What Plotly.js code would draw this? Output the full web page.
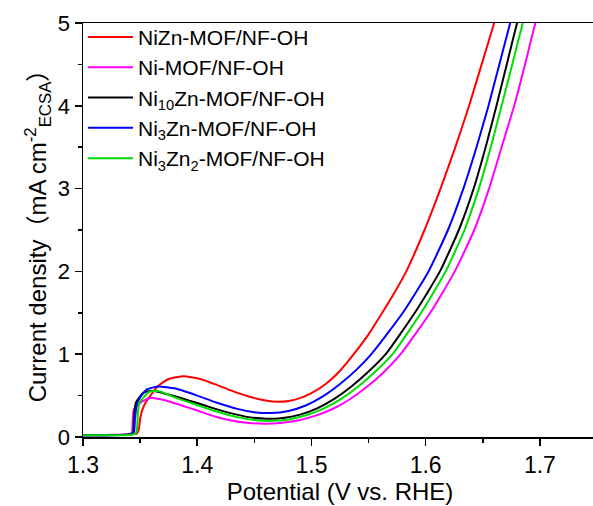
<!DOCTYPE html>
<html>
<head>
<meta charset="utf-8">
<script src="https://cdn.plot.ly/plotly-3.0.1.min.js"></script>
<style>
  html, body { margin: 0; padding: 0; overflow: hidden; background: #fff; }
  #chart { width: 600px; height: 506px; }
</style>
</head>
<body>
<div id="chart"></div>
<script>
// ---- Data ----
const seriesNames = [
  'NiZn-MOF/NF-OH',
  'Ni-MOF/NF-OH',
  'Ni<sub>10</sub>Zn-MOF/NF-OH',
  'Ni<sub>3</sub>Zn-MOF/NF-OH',
  'Ni<sub>3</sub>Zn<sub>2</sub>-MOF/NF-OH'
];
const seriesColors = ['#ff0000', '#ff00ff', '#000000', '#0000ff', '#00dd00'];

// NiZn-MOF/NF-OH (red)
const niznV = [1.300, 1.320, 1.340, 1.347, 1.349, 1.350, 1.352, 1.355, 1.359, 1.366, 1.375, 1.388, 1.404, 1.416, 1.430, 1.445, 1.460, 1.470, 1.480, 1.490, 1.500, 1.5125, 1.525, 1.537, 1.550, 1.562, 1.573, 1.583, 1.599, 1.613, 1.626, 1.638, 1.649, 1.660, 1.663];
const niznJ = [0.020, 0.025, 0.030, 0.040, 0.100, 0.220, 0.330, 0.420, 0.500, 0.620, 0.700, 0.735, 0.695, 0.635, 0.560, 0.490, 0.440, 0.425, 0.435, 0.470, 0.530, 0.640, 0.800, 1.000, 1.240, 1.500, 1.750, 2.000, 2.500, 3.000, 3.500, 4.000, 4.500, 5.000, 5.150];

// Ni-MOF/NF-OH (magenta)
const niV = [1.300, 1.320, 1.342, 1.343, 1.3435, 1.3445, 1.3517, 1.359, 1.368, 1.381, 1.400, 1.416, 1.430, 1.445, 1.460, 1.473, 1.488, 1.503, 1.518, 1.533, 1.548, 1.563, 1.578, 1.604, 1.6255, 1.6425, 1.6555, 1.6665, 1.6775, 1.687, 1.696, 1.699];
const niJ = [0.020, 0.022, 0.035, 0.060, 0.200, 0.330, 0.430, 0.470, 0.455, 0.405, 0.320, 0.245, 0.200, 0.170, 0.160, 0.170, 0.200, 0.255, 0.335, 0.450, 0.600, 0.780, 1.000, 1.500, 2.000, 2.500, 3.000, 3.500, 4.000, 4.500, 5.000, 5.150];

// Ni10Zn-MOF/NF-OH (black)
const ni10znV = [1.300, 1.320, 1.340, 1.344, 1.3443, 1.345, 1.3465, 1.353, 1.3605, 1.381, 1.400, 1.416, 1.430, 1.445, 1.460, 1.475, 1.490, 1.505, 1.520, 1.535, 1.550, 1.565, 1.5905, 1.6125, 1.629, 1.642, 1.6525, 1.662, 1.671, 1.680, 1.683];
const ni10znJ = [0.020, 0.022, 0.030, 0.050, 0.120, 0.300, 0.420, 0.535, 0.560, 0.490, 0.410, 0.340, 0.285, 0.240, 0.220, 0.230, 0.270, 0.345, 0.460, 0.610, 0.790, 1.000, 1.500, 2.000, 2.500, 3.000, 3.500, 4.000, 4.500, 5.000, 5.150];

// Ni3Zn-MOF/NF-OH (blue)
const ni3znV = [1.300, 1.320, 1.340, 1.3445, 1.3455, 1.347, 1.350, 1.356, 1.366, 1.381, 1.400, 1.416, 1.435, 1.450, 1.465, 1.480, 1.495, 1.510, 1.525, 1.540, 1.5525, 1.580, 1.6025, 1.6195, 1.633, 1.6445, 1.655, 1.6645, 1.674, 1.677];
const ni3znJ = [0.020, 0.022, 0.030, 0.060, 0.220, 0.380, 0.480, 0.575, 0.610, 0.585, 0.500, 0.420, 0.340, 0.300, 0.290, 0.315, 0.380, 0.490, 0.640, 0.820, 1.000, 1.500, 2.000, 2.500, 3.000, 3.500, 4.000, 4.500, 5.000, 5.150];

// Ni3Zn2-MOF/NF-OH (green)
const ni3zn2V = [1.300, 1.320, 1.340, 1.346, 1.3473, 1.348, 1.3495, 1.358, 1.366, 1.381, 1.400, 1.416, 1.435, 1.450, 1.466, 1.481, 1.496, 1.511, 1.526, 1.541, 1.556, 1.571, 1.596, 1.6175, 1.634, 1.6465, 1.657, 1.6665, 1.6758, 1.685, 1.688];
const ni3zn2J = [0.020, 0.022, 0.025, 0.040, 0.100, 0.280, 0.420, 0.545, 0.555, 0.475, 0.385, 0.310, 0.240, 0.205, 0.195, 0.215, 0.265, 0.345, 0.460, 0.610, 0.790, 1.000, 1.500, 2.000, 2.500, 3.000, 3.500, 4.000, 4.500, 5.000, 5.150];

const xTickVals = [1.3, 1.4, 1.5, 1.6, 1.7];
const xTickText = ['1.3', '1.4', '1.5', '1.6', '1.7'];
const yTickVals = [0, 1, 2, 3, 4, 5];
const yTickText = ['0', '1', '2', '3', '4', '5'];

const xs = [niznV, niV, ni10znV, ni3znV, ni3zn2V];
const ys = [niznJ, niJ, ni10znJ, ni3znJ, ni3zn2J];

const FONT = 'Liberation Sans, Arial, Noto Sans CJK SC, sans-serif';

const traces = seriesNames.map((name, i) => ({
  type: 'scatter',
  mode: 'lines',
  name: name,
  x: xs[i],
  y: ys[i],
  line: { color: seriesColors[i], width: 2, shape: 'spline', smoothing: 0.5 }
}));

const layout = {
  width: 600,
  height: 506,
  margin: { l: 83, r: 3, t: 23, b: 69 },
  paper_bgcolor: '#ffffff',
  plot_bgcolor: '#ffffff',
  font: { family: FONT, color: '#000000' },
  showlegend: true,
  legend: {
    x: 0.0, y: 1.015, xanchor: 'left', yanchor: 'top',
    bgcolor: 'rgba(0,0,0,0)', borderwidth: 0,
    font: { family: FONT, size: 21, color: '#000' },
    tracegroupgap: 0, itemwidth: 45
  },
  xaxis: {
    range: [1.3, 1.75],
    tickmode: 'array', tickvals: xTickVals, ticktext: xTickText,
    ticks: 'outside', ticklen: 7, tickwidth: 1.5, tickcolor: '#000',
    minor: { dtick: 0.05, ticks: 'outside', ticklen: 4, tickwidth: 1.5, tickcolor: '#000', showgrid: false },
    showline: true, linecolor: '#000', linewidth: 1.5, mirror: true,
    showgrid: false, zeroline: false,
    tickfont: { family: FONT, size: 23, color: '#000' },
    title: { text: 'Potential (V vs. RHE)', font: { family: FONT, size: 24, color: '#000' }, standoff: 6 },
    automargin: false
  },
  yaxis: {
    range: [0, 5],
    tickmode: 'array', tickvals: yTickVals, ticktext: yTickText,
    ticks: 'outside', ticklen: 7, tickwidth: 1.5, tickcolor: '#000',
    minor: { dtick: 0.5, ticks: 'outside', ticklen: 4, tickwidth: 1.5, tickcolor: '#000', showgrid: false },
    showline: true, linecolor: '#000', linewidth: 1.5, mirror: true,
    showgrid: false, zeroline: false,
    tickfont: { family: FONT, size: 22, color: '#000' },
    title: { text: 'Current density（mA cm<sup>-2</sup><sub>ECSA</sub>）', font: { family: FONT, size: 24, color: '#000' }, standoff: 4 },
    automargin: false
  }
};

Plotly.newPlot('chart', traces, layout, { staticPlot: true, displayModeBar: false });
</script>
</body>
</html>
